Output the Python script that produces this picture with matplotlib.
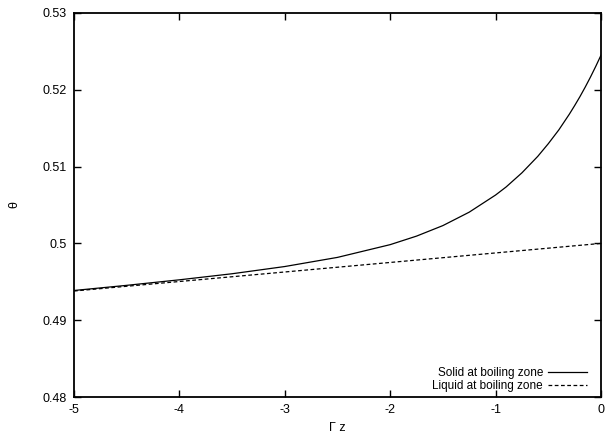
import numpy as np
import matplotlib
matplotlib.use('Agg')
import matplotlib.pyplot as plt

# valores
gz = [-5, -4.5, -4, -3.5, -3, -2.5, -2, -1.75, -1.5, -1.25, -1, -0.9, -0.75, -0.6, -0.5,
      -0.4, -0.3, -0.25, -0.2, -0.15, -0.1, -0.05, 0]
theta_solid = [0.49387, 0.49454, 0.49526, 0.49605, 0.49699, 0.49818, 0.49984, 0.50095,
               0.50232, 0.50407, 0.5063, 0.50735, 0.50919, 0.51133, 0.51298,
               0.51478, 0.51683, 0.51794, 0.5191, 0.52034, 0.52165, 0.52304, 0.5245]
gz_liq = [-5, 0]
theta_liq = [0.4938, 0.5]

xticks = [-5, -4, -3, -2, -1, 0]
yticks = [0.48, 0.49, 0.5, 0.51, 0.52, 0.53]
ylabels = ['0.48', '0.49', '0.5', '0.51', '0.52', '0.53']

plt.rcParams['font.family'] = ['Liberation Sans', 'DejaVu Sans']
plt.rcParams['axes.unicode_minus'] = False

fig = plt.figure(figsize=(6.11, 4.36), dpi=100)
ax = fig.add_axes([0.1211, 0.0894, 0.8625, 0.8808])

ax.plot(gz, theta_solid, color='black', lw=0.9, label='Solid at boiling zone')
ax.plot(gz_liq, theta_liq, color='black', lw=0.9, dashes=(3, 2), label='Liquid at boiling zone')

ax.set_xlim(-5, 0)
ax.set_ylim(0.48, 0.53)
ax.set_xticks(xticks)
ax.set_xticklabels([str(t) for t in xticks])
ax.set_yticks(yticks)
ax.set_yticklabels(ylabels)
ax.tick_params(direction='in', top=True, right=True, length=5, width=1, labelsize=9, pad=5)
for s in ax.spines.values():
    s.set_linewidth(1.3)

ax.set_xlabel('\u0393 z', fontsize=9)
ax.set_ylabel('\u03b8', fontsize=9)
ax.xaxis.set_label_coords(0.5, -0.064)
ax.yaxis.set_label_coords(-0.102, 0.5)

leg = ax.legend(loc='lower right', bbox_to_anchor=(0.983, 0), frameon=False,
                markerfirst=False, fontsize=8.5,
                handlelength=3.3, handletextpad=0.4, labelspacing=0.08,
                borderaxespad=0.15, borderpad=0.3)

fig.savefig('out.png', dpi=100)
